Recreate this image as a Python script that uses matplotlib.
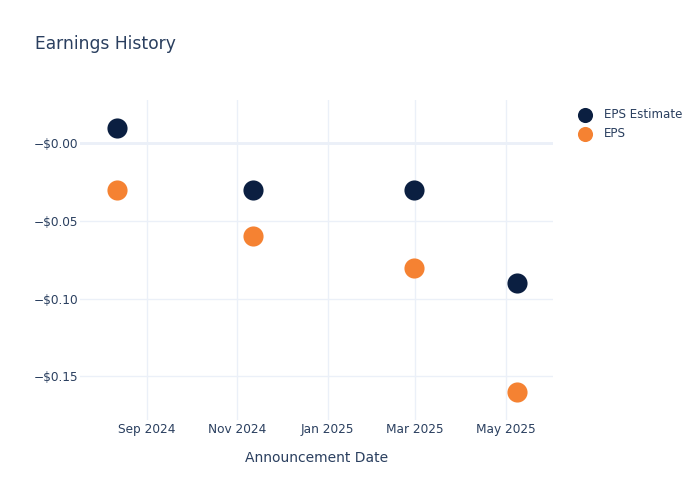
import matplotlib
matplotlib.use("Agg")
import matplotlib.pyplot as plt
import matplotlib.dates as mdates
from matplotlib.ticker import FuncFormatter, FixedLocator
import numpy as np
from datetime import datetime

# data
dates = ["2024-08-12", "2024-11-12", "2025-02-28", "2025-05-09"]
eps_estimate = [0.01, -0.03, -0.03, -0.09]
eps_actual = [-0.03, -0.06, -0.08, -0.16]
y_ticks = [0.0, -0.05, -0.10, -0.15]
x_ticks = ["2024-09-01", "2024-11-01", "2025-01-01", "2025-03-01", "2025-05-01"]
x_labels = ["Sep 2024", "Nov 2024", "Jan 2025", "Mar 2025", "May 2025"]

text_col = "#2a3f5f"
grid_col = "#EBF0F8"
navy = "#0b1f41"
orange = "#f58232"

x = [datetime.strptime(d, "%Y-%m-%d") for d in dates]

fig = plt.figure(figsize=(7, 5), dpi=100)
ax = fig.add_axes([80 / 700, 80 / 500, 473 / 700, 320 / 500])

ax.scatter(x, eps_estimate, s=210, color=navy, label="EPS Estimate", zorder=3, linewidths=0)
ax.scatter(x, eps_actual, s=210, color=orange, label="EPS", zorder=3, linewidths=0)

ax.set_xlim(datetime(2024, 7, 18), datetime(2025, 6, 2))
ax.set_ylim(-0.178, 0.0277)

ax.xaxis.set_major_locator(FixedLocator(mdates.date2num([datetime.strptime(d, "%Y-%m-%d") for d in x_ticks])))
ax.set_xticklabels(x_labels)
ax.yaxis.set_major_locator(FixedLocator(y_ticks))
ax.yaxis.set_major_formatter(FuncFormatter(lambda v, p: "\u2212$%.2f" % abs(v)))

for s in ax.spines.values():
    s.set_visible(False)
ax.grid(True, color=grid_col, linewidth=1, zorder=0)
ax.axhline(0, color=grid_col, linewidth=2, zorder=1)
ax.tick_params(length=0, labelsize=8.7, labelcolor=text_col)
ax.tick_params(axis="y", pad=1)
ax.tick_params(axis="x", pad=2)

ax.set_xlabel("Announcement Date", fontsize=10, color=text_col, labelpad=11)
fig.text(35 / 700, 1 - 44 / 500, "Earnings History", fontsize=12.3, color=text_col, va="center")

leg = ax.legend(loc="upper left", bbox_to_anchor=(1.025, 1.0), frameon=False,
                fontsize=8.6, labelcolor=text_col, handletextpad=0.6,
                labelspacing=0.45, markerscale=0.75, borderaxespad=0.3)

fig.savefig("out.png", dpi=100)
